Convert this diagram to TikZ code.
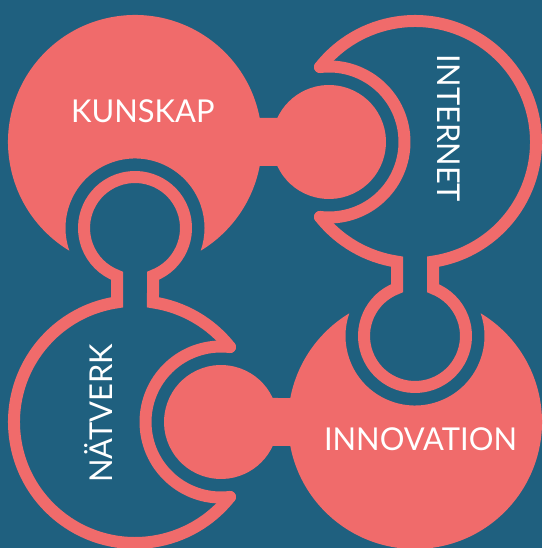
\documentclass[tikz,border=0pt]{standalone}
\usepackage{fontspec}
\setmainfont{Lato}[FakeStretch=0.98]
\definecolor{bgteal}{RGB}{31,96,127}
\definecolor{sal}{RGB}{240,107,107}
\tikzset{
  solidfill/.style={fill=sal},
  ringline/.style={draw=sal, line width=12pt, line cap=round, line join=miter},
  lbl/.style={text=white, font=\fontsize{31.5}{31.5}\selectfont, inner sep=0pt,
              text height=22.6pt, text depth=0pt, anchor=center},
  fpiece/.pic={
    \fill[solidfill] (-58.86:127) arc[start angle=-58.86, end angle=-10.89, radius=127]
      -- (142.30,-24) arc[start angle=204.90, end angle=515.10, radius=57]
      -- (124.71,24) arc[start angle=10.89, end angle=238.86, radius=127]
      arc[start angle=199.06, end angle=-19.06, radius=69.5] -- cycle;
  },
  opiece/.pic={
    \draw[ringline] (-51.72:121) arc[start angle=-51.72, end angle=-8.555, radius=121]
      -- (146.282,-18) arc[start angle=200.666, end angle=519.334, radius=51]
      -- (119.654,18) arc[start angle=8.555, end angle=231.72, radius=121];
    \draw[ringline] (-74.96,-94.98) arc[start angle=186.83, end angle=-6.83, radius=75.5];
  }
}
\begin{document}
\begin{tikzpicture}[x=1pt,y=1pt]
\useasboundingbox (0,0) rectangle (542,548);
\fill[bgteal] (0,0) rectangle (542,548);
% pieces
\pic at (135,406) {fpiece};
\pic[rotate=-90] at (415,406) {opiece};
\pic[rotate=180] at (415,126) {fpiece};
\pic[rotate=90] at (135,126) {opiece};
% labels
\node[lbl] (kunskap) at (142.8,436.7) {KUNSKAP};
\node[lbl, rotate=-90] (internet) at (449,419.5) {INTERNET};
\node[lbl, rotate=90] (natverk) at (101,134.7) {NÄTVERK};
\node[lbl] (innovation) at (420.5,109.2) {INNOVATION};
\end{tikzpicture}
\end{document}
